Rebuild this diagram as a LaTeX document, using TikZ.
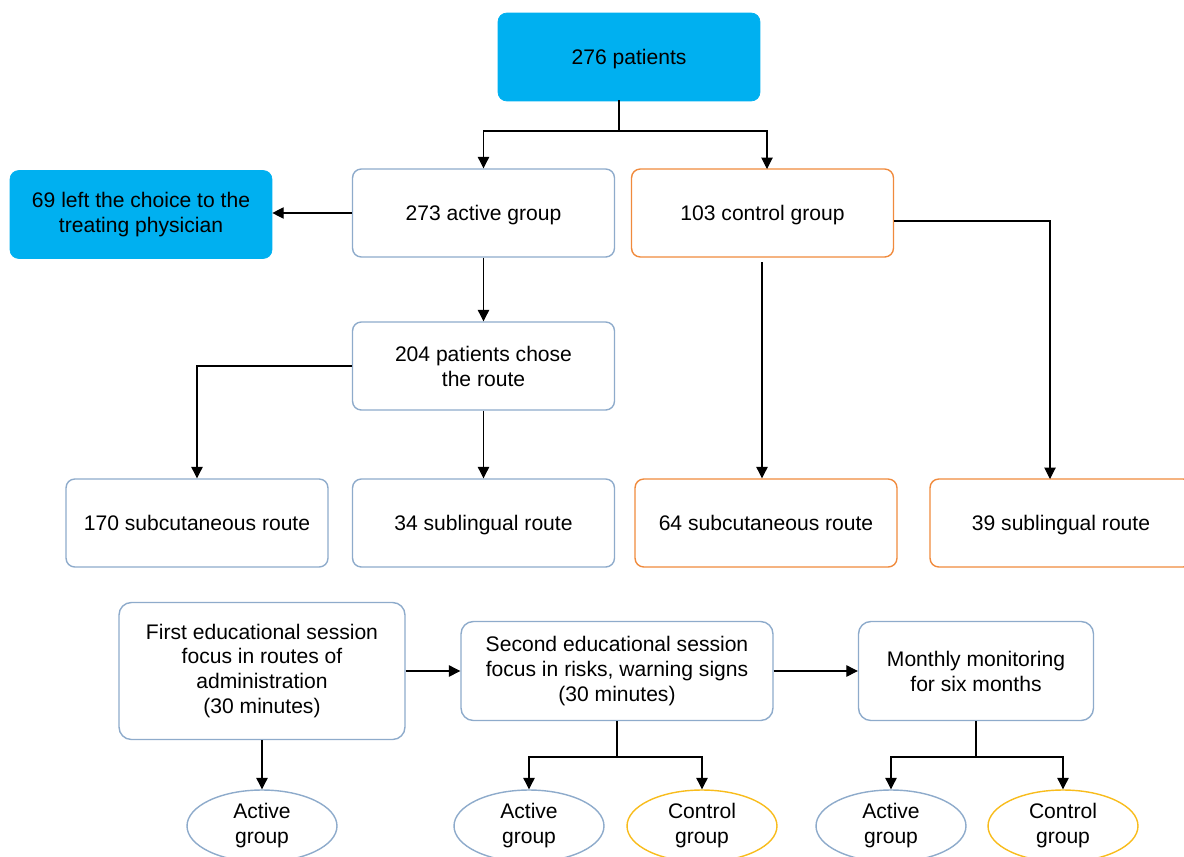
\documentclass[tikz,border=0pt]{standalone}
\usepackage{fontspec}
\setmainfont{Liberation Sans}
\usetikzlibrary{arrows.meta,shapes.geometric}
\definecolor{boxblue}{HTML}{00B0F0}
\definecolor{edgeblue}{HTML}{8EABCB}
\definecolor{edgeorange}{HTML}{F08A3C}
\definecolor{edgeyellow}{HTML}{F8BC1C}
\begin{document}
\begin{tikzpicture}  % ------ Flow of patients ---------------
      [x=0.02cm,y=-0.02cm,
       every node/.style={font=\fontsize{12}{14.2}\selectfont,align=center},
       oneline/.style={text height=0.95em,text depth=0.15em},
       bluebox/.style={fill=boxblue,draw=boxblue,rounded corners=5pt,minimum width=5.24cm,minimum height=1.76cm},
       activebox/.style={draw=edgeblue,thick,rounded corners=5pt,minimum width=5.24cm,minimum height=1.76cm},
       controlbox/.style={draw=edgeorange,thick,rounded corners=5pt,minimum width=5.24cm,minimum height=1.76cm},
       sessionbox/.style={draw=edgeblue,thick,rounded corners=7pt,minimum height=1.98cm},
       activeoval/.style={ellipse,draw=edgeblue,thick,minimum width=3cm,minimum height=1.44cm,inner sep=0pt},
       controloval/.style={ellipse,draw=edgeyellow,thick,minimum width=3cm,minimum height=1.44cm,inner sep=0pt},
       link/.style={-{Triangle[length=6.5pt,width=6.5pt]},line width=0.6pt}]
    \useasboundingbox (0,0) rectangle (1184,856);

    \node[bluebox,oneline] (patients) at (629,57) {276 patients};
    \node[activebox,oneline] (active) at (483.5,213) {273 active group};
    \node[controlbox,oneline] (control) at (762.5,213) {103 control group};
    \node[bluebox] (physician) at (141,214.5) {69 left the choice to the\\treating physician};
    \node[activebox] (chose) at (483.5,366) {204 patients chose\\the route};

    \node[activebox,oneline] (subA) at (197,523) {170 subcutaneous route};
    \node[activebox,oneline] (sublA) at (483.5,523) {34 sublingual route};
    \node[controlbox,oneline] (subC) at (766,523) {64 subcutaneous route};
    \node[controlbox,oneline] (sublC) at (1061,523) {39 sublingual route};

    \node[sessionbox,minimum width=5.72cm,minimum height=2.74cm] (first) at (262,671)
        {First educational session\\focus in routes of\\administration\\(30 minutes)};
    \node[sessionbox,minimum width=6.24cm] (second) at (617,671)
        {Second educational session\\focus in risks, warning signs\\(30 minutes)};
    \node[sessionbox,minimum width=4.7cm] (monthly) at (976,671)
        {Monthly monitoring\\for six months};

    \node[activeoval] (ovA1) at (262,826) {Active\\group};
    \node[activeoval] (ovA2) at (529,826) {Active\\group};
    \node[controloval] (ovC2) at (702,826) {Control\\group};
    \node[activeoval] (ovA3) at (891,826) {Active\\group};
    \node[controloval] (ovC3) at (1063,826) {Control\\group};

    \coordinate (split) at (619,131);
    \coordinate (ctop) at (767,169);
    \coordinate (cstart) at (762,262);

    \draw[line width=0.6pt] (619,100) -- (split);
    \draw[link] (split) -| (active.north);
    \draw[link] (split) -| (ctop);
    \draw[link] (active.west) -- (physician.east |- active.west);
    \draw[link] (active.south) -- (chose.north);
    \draw[link] (chose.west) -| (subA.north);
    \draw[link] (chose.south) -- (sublA.north);
    \draw[link] (cstart) -- (cstart |- subC.north);
    \draw[link] (control.east |- 0,221) -| (1050,479);

    \draw[link] (first.east) -- (second.west);
    \draw[link] (second.east) -- (monthly.west);
    \draw[link] (first.south) -- (ovA1.north);
    \draw[line width=0.6pt] (second.south) -- (617,757);
    \draw[link] (617,757) -| (ovA2.north);
    \draw[link] (617,757) -| (ovC2.north);
    \draw[line width=0.6pt] (monthly.south) -- (976,757);
    \draw[link] (976,757) -| (ovA3.north);
    \draw[link] (976,757) -| (ovC3.north);
\end{tikzpicture}
\end{document}
